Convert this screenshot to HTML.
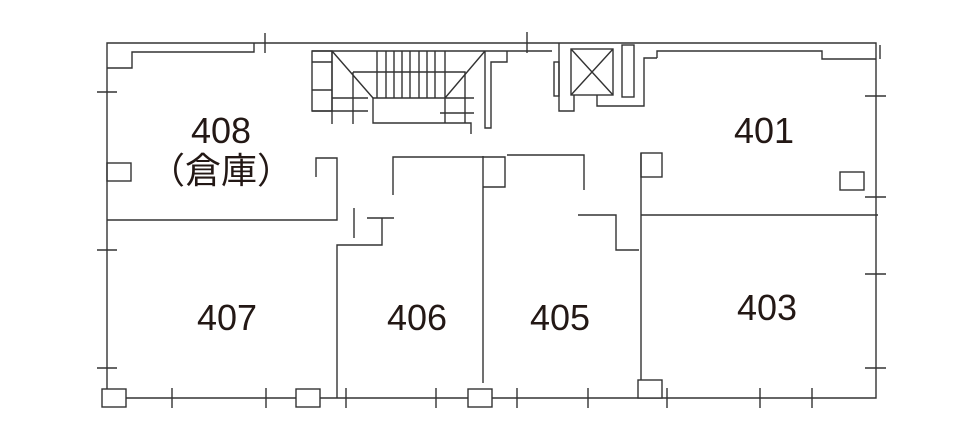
<!DOCTYPE html>
<html><head><meta charset="utf-8"><style>
html,body{margin:0;padding:0;background:#fff;}
svg{display:block;}
text{font-family:"Liberation Sans","Noto Sans CJK JP",sans-serif;fill:#231815;font-size:36px;text-anchor:middle;}
</style></head><body>
<svg width="960" height="435" viewBox="0 0 960 435" xmlns="http://www.w3.org/2000/svg">
<g stroke="#333" stroke-width="1.4" fill="none">
<path d="M107,43 H876 V398 H107 Z"/>
<path d="M107,68 H132 V52 H254 V43"/>
<path d="M657,58 V51 H822 V59 H876"/>
<path d="M880,45 V59"/>
<path d="M265,33 V53 M527,32 V53 M97,92 H117 M97,250 H117 M97,368 H117 M865,96 H886 M865,197 H886 M865,274 H886 M865,368 H886"/>
<path d="M172,388 V408 M266,388 V408 M346,388 V408 M436,388 V408 M517,388 V408 M588,388 V408 M667,388 V408 M760,388 V408 M812,388 V408"/>
<rect x="102" y="389" width="24" height="18" fill="#fff"/>
<rect x="296" y="389" width="24" height="18" fill="#fff"/>
<rect x="468" y="389" width="24" height="18" fill="#fff"/>
<rect x="638" y="380" width="24" height="18" fill="#fff"/>
<rect x="107" y="163" width="24" height="18"/>
<path d="M107,220 H337 V158 H316 V177"/>
<path d="M354,208 V238 M367,218 H394 M382,218 V245 H337 V398"/>
<path d="M312,51 H552"/>
<rect x="312" y="51" width="20" height="60"/>
<path d="M312,62 H332 M312,90 H332 M332,51 V124 M332,98 H368 M312,111 H368 M353,72 V124 M353,72 H465 V123"/>
<path d="M332,51 L373,98 M485,51 L445,98"/>
<path d="M377,51 V98 M386,51 V98 M394,51 V98 M402,51 V98 M410,51 V98 M419,51 V98 M427,51 V98 M435,51 V98 M445,51 V98"/>
<path d="M373,98 H445 M373,98 V123 H471 V134 M445,98 V123 M445,98 H474 M440,113 H474"/>
<path d="M485,51 V128 H491 V62 H507 V51"/>
<path d="M559,43 V111 H574 V95"/>
<rect x="554" y="62" width="5" height="34"/>
<rect x="571" y="49" width="42" height="46"/>
<path d="M571,49 L613,95 M613,49 L571,95"/>
<path d="M597,95 V106 H644 V58 H657"/>
<rect x="622" y="45" width="12" height="52"/>
<path d="M393,195 V157 H505 V187 H483"/>
<path d="M483,156 V383"/>
<path d="M507,155 H584 V190"/>
<path d="M578,215 H616 V250 H639"/>
<path d="M641,153 V380"/>
<rect x="641" y="153" width="21" height="24"/>
<path d="M641,215 H878"/>
<rect x="840" y="172" width="24" height="18"/>
</g>
<text x="221" y="143">408</text>
<text x="221" y="183">（倉庫）</text>
<text x="764" y="143">401</text>
<text x="227" y="330">407</text>
<text x="417" y="330">406</text>
<text x="560" y="330">405</text>
<text x="767" y="320">403</text>
</svg>
</body></html>
